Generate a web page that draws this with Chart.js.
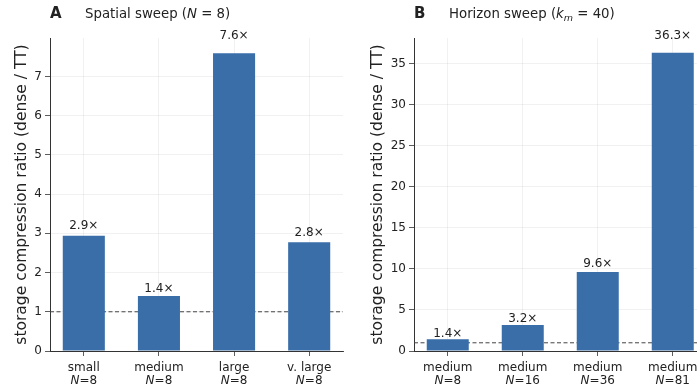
<!DOCTYPE html>
<html><head><meta charset="utf-8">
<script src="https://cdn.jsdelivr.net/npm/chart.js@4.4.1/dist/chart.umd.min.js"></script>
<style>
html,body{margin:0;padding:0;background:#fff;overflow:hidden;width:697px;height:387px;position:relative}
#wrapA{position:absolute;left:0;top:0;width:350px;height:387px}
#wrapB{position:absolute;left:350px;top:0;width:362px;height:387px}
</style></head><body>
<div id="wrapA"><canvas id="chartA"></canvas></div>
<div id="wrapB"><canvas id="chartB"></canvas></div>
<script>
// panel A: spatial sweep
var spatialSizes = ['small', 'medium', 'large', 'v. large'];
var spatialN = [8, 8, 8, 8];
var spatialRatio = [2.94, 1.40, 7.59, 2.77];
var spatialTicks = [0, 1, 2, 3, 4, 5, 6, 7];
// panel B: horizon sweep
var horizonSizes = ['medium', 'medium', 'medium', 'medium'];
var horizonN = [8, 16, 36, 81];
var horizonRatio = [1.43, 3.17, 9.63, 36.3];
var horizonTicks = [0, 5, 10, 15, 20, 25, 30, 35];
var breakEven = 1;

var FONT = "'DejaVu Sans', sans-serif";
var TXT = '#222';
var BAR = '#3a6ea8';

function drawRuns(ctx, runs, x, y, align) {
  var total = 0;
  runs.forEach(function (r) {
    ctx.font = (r.it ? 'italic ' : '') + (r.size || 13.3) + 'px ' + FONT;
    r.w = ctx.measureText(r.t).width;
    total += r.w;
  });
  var cx = align === 'center' ? x - total / 2 : x;
  ctx.textAlign = 'left';
  ctx.textBaseline = 'alphabetic';
  runs.forEach(function (r) {
    ctx.font = (r.it ? 'italic ' : '') + (r.size || 13.3) + 'px ' + FONT;
    ctx.fillText(r.t, cx, y + (r.dy || 0));
    cx += r.w;
  });
}

function makeChart(id, sizes, ns, vals, ticks, yMax, yWidth, titlePad, padRight, panel, titleRuns) {
  var extras = {
    id: 'extras',
    beforeDatasetsDraw: function (chart) {
      var ctx = chart.ctx, a = chart.chartArea;
      var y = chart.scales.y.getPixelForValue(breakEven);
      ctx.save();
      ctx.strokeStyle = '#444';
      ctx.lineWidth = 1;
      ctx.setLineDash([4, 2.5]);
      ctx.beginPath();
      ctx.moveTo(a.left, y);
      ctx.lineTo(a.right, y);
      ctx.stroke();
      ctx.restore();
    },
    afterDraw: function (chart) {
      var ctx = chart.ctx, a = chart.chartArea;
      var xs = chart.scales.x, ys = chart.scales.y;
      ctx.save();
      ctx.fillStyle = TXT;
      // value labels
      ctx.font = '12px ' + FONT;
      ctx.textAlign = 'center';
      ctx.textBaseline = 'alphabetic';
      vals.forEach(function (v, i) {
        ctx.fillText(v.toFixed(1) + '\u00d7', xs.getPixelForValue(i), ys.getPixelForValue(v * 1.04) - 2);
      });
      // x tick labels, two lines
      sizes.forEach(function (s, i) {
        var x = xs.getPixelForValue(i);
        ctx.font = '12px ' + FONT;
        ctx.textAlign = 'center';
        ctx.fillText(s, x, a.bottom + 20);
        drawRuns(ctx, [{t: 'N', it: true, size: 12}, {t: '=' + ns[i], size: 12}], x, a.bottom + 33, 'center');
      });
      // panel letter and title
      ctx.font = 'bold 15px ' + FONT;
      ctx.textAlign = 'left';
      ctx.fillText(panel, a.left, 18);
      drawRuns(ctx, titleRuns, a.left + 35, 18, 'left');
      ctx.restore();
    }
  };
  return new Chart(document.getElementById(id), {
    type: 'bar',
    data: {
      datasets: [{
        data: vals.map(function (v, i) { return {x: i, y: v}; }),
        backgroundColor: BAR,
        borderWidth: 0,
        barPercentage: 0.56,
        categoryPercentage: 1
      }]
    },
    options: {
      responsive: true,
      maintainAspectRatio: false,
      animation: false,
      layout: {padding: {top: 38, right: padRight, left: 0, bottom: 0}},
      plugins: {legend: {display: false}, tooltip: {enabled: false}},
      scales: {
        x: {
          type: 'linear',
          offset: false,
          min: -0.45,
          max: sizes.length - 0.55,
          afterBuildTicks: function (s) { s.ticks = sizes.map(function (c, i) { return {value: i}; }); },
          afterFit: function (s) { s.height = 36; },
          ticks: {display: false},
          grid: {offset: false, color: 'rgba(0,0,0,0.07)', lineWidth: 0.8, tickColor: '#333', tickLength: 5, drawTicks: true},
          border: {display: true, color: '#333', width: 1}
        },
        y: {
          min: 0,
          max: yMax,
          afterBuildTicks: function (s) { s.ticks = ticks.map(function (t) { return {value: t}; }); },
          afterFit: function (s) { s.width = yWidth; },
          ticks: {font: {family: FONT, size: 12}, color: TXT, padding: 3},
          grid: {color: 'rgba(0,0,0,0.07)', lineWidth: 0.8, tickColor: '#333', tickLength: 5},
          border: {display: true, color: '#333', width: 1},
          title: {display: true, text: 'storage compression ratio (dense / TT)', font: {family: FONT, size: 15.5}, color: TXT, padding: {top: titlePad, bottom: 0}}
        }
      }
    },
    plugins: [extras]
  });
}

makeChart('chartA', spatialSizes, spatialN, spatialRatio, spatialTicks, 7.98, 50, 13, 7, 'A',
  [{t: 'Spatial sweep ('}, {t: 'N', it: true}, {t: ' = 8)'}]);
makeChart('chartB', horizonSizes, horizonN, horizonRatio, horizonTicks, 38.1, 64, 19, 5.5, 'B',
  [{t: 'Horizon sweep ('}, {t: 'k', it: true}, {t: 'm', it: true, size: 9.5, dy: 3}, {t: ' = 40)'}]);
</script>
</body></html>
